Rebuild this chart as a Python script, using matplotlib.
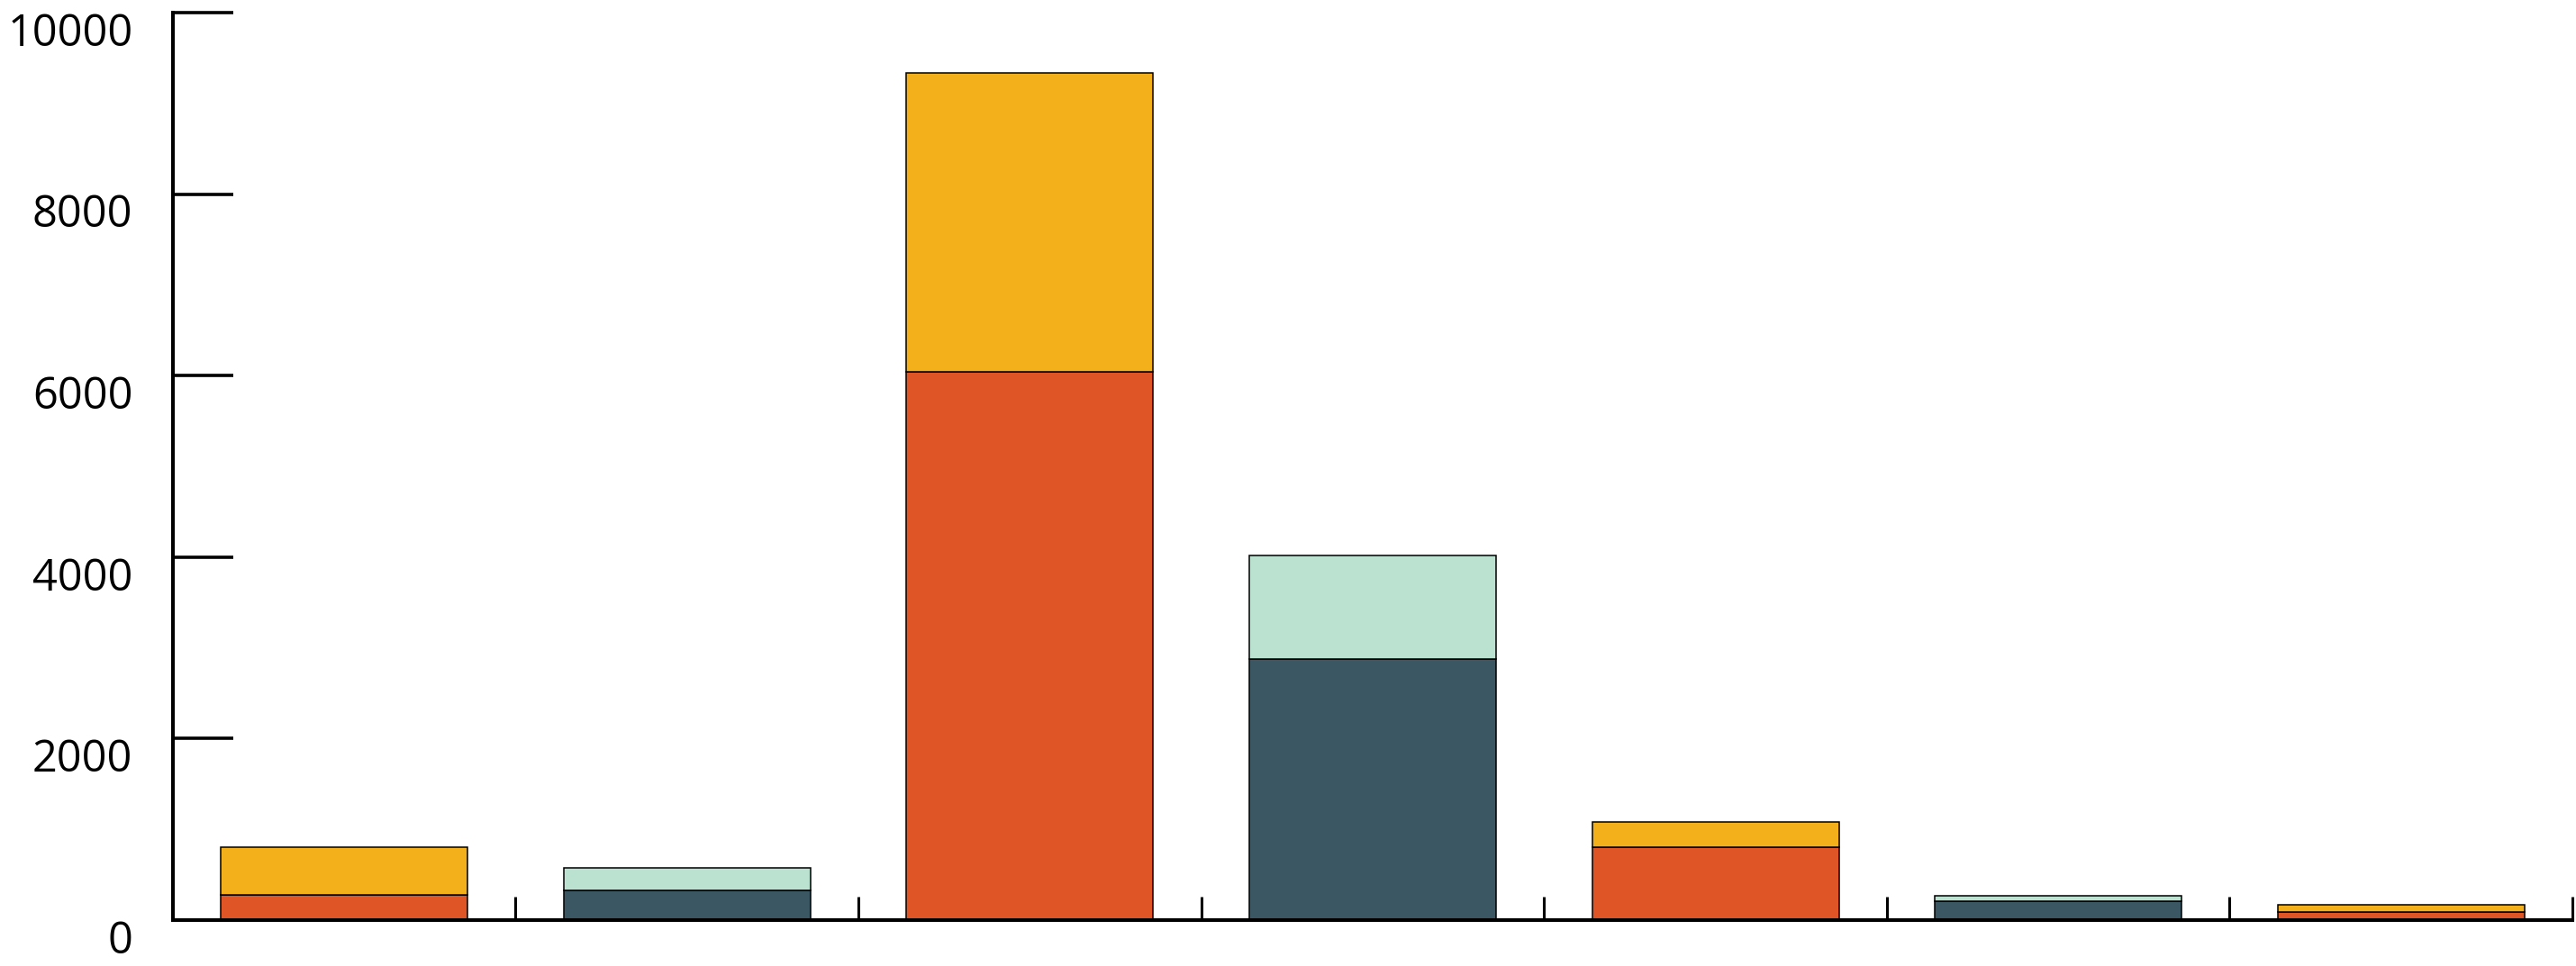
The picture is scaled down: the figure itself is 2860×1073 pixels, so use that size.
import numpy as np
import matplotlib
matplotlib.use("Agg")
import matplotlib.pyplot as plt
import matplotlib.transforms as mtransforms

# bar stacks
bottom_vals = [278, 327, 6040, 2880, 807, 208, 89]
top_vals = [526, 248, 3290, 1137, 274, 60, 80]
bottom_cols = ["#E05526", "#3B5764", "#E05526", "#3B5764", "#E05526", "#3B5764", "#E05526"]
top_cols = ["#F4B01B", "#BBE2D1", "#F4B01B", "#BBE2D1", "#F4B01B", "#BBE2D1", "#F4B01B"]
yticks = [0, 2000, 4000, 6000, 8000, 10000]

x = np.arange(len(bottom_vals))

fig = plt.figure(figsize=(28.6, 10.73), dpi=100)
ax = fig.add_axes([0.0671, 0.0475, 0.9315, 0.9395])

ax.bar(x, bottom_vals, width=0.72, color=bottom_cols, edgecolor="black", linewidth=1.1, zorder=2)
ax.bar(x, top_vals, width=0.72, bottom=bottom_vals, color=top_cols,
       edgecolor="black", linewidth=1.1, zorder=2)

ax.set_xlim(-0.5, len(x) - 0.5)
ax.set_ylim(0, 10000)

for s in ["top", "right"]:
    ax.spines[s].set_visible(False)
for s in ["left", "bottom"]:
    ax.spines[s].set_linewidth(2.9)
    ax.spines[s].set_zorder(3)

ax.set_yticks(yticks)
ax.set_yticklabels([str(v) for v in yticks])
ax.tick_params(axis="y", direction="in", length=48, width=2.6, pad=32,
               labelsize=35)
ax.set_xticks(x[:-1] + 0.5)
ax.set_xticks(list(x + 0.5))
ax.set_xticklabels([])
ax.tick_params(axis="x", direction="in", length=19, width=2.2)

# labels sit a little below their ticks in the original
offset = mtransforms.ScaledTranslation(0, -18 / 100, fig.dpi_scale_trans)
for lab in ax.get_yticklabels():
    lab.set_fontfamily("Open Sans")
    lab.set_transform(lab.get_transform() + offset)

fig.savefig("out.png", dpi=100)
